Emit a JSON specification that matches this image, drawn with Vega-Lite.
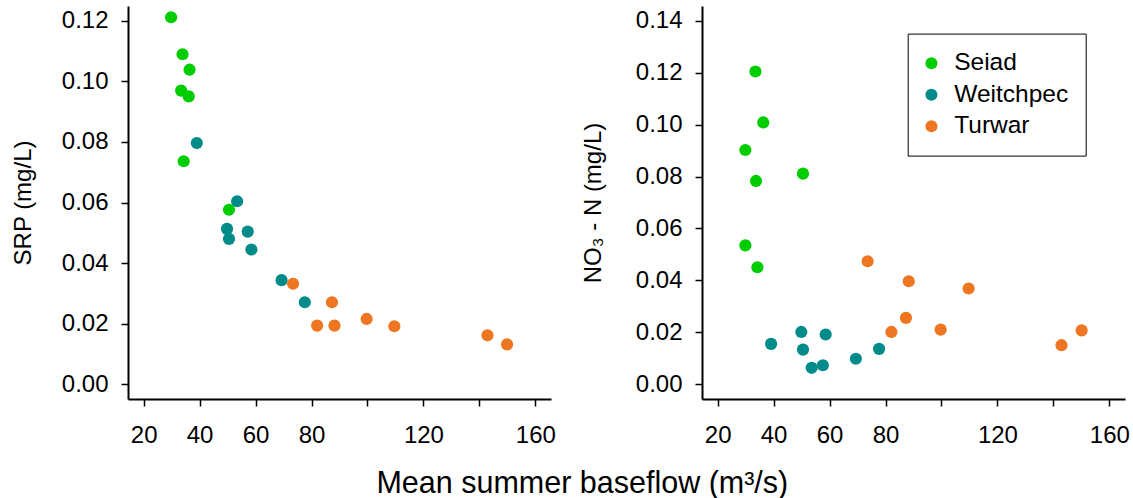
{
  "$schema": "https://vega.github.io/schema/vega-lite/v6.json",
  "padding": {"left": 11, "top": 6, "right": 0, "bottom": 0},
  "background": "white",
  "datasets": {
    "srp": [
      {"site": "Seiad", "flow": 29.8, "srp": 0.1211},
      {"site": "Seiad", "flow": 33.9, "srp": 0.1089},
      {"site": "Seiad", "flow": 36.4, "srp": 0.1038},
      {"site": "Seiad", "flow": 33.4, "srp": 0.0969},
      {"site": "Seiad", "flow": 36.1, "srp": 0.0950},
      {"site": "Seiad", "flow": 34.3, "srp": 0.0736},
      {"site": "Weitchpec", "flow": 39.0, "srp": 0.0796},
      {"site": "Weitchpec", "flow": 53.4, "srp": 0.0604},
      {"site": "Weitchpec", "flow": 49.8, "srp": 0.0513},
      {"site": "Weitchpec", "flow": 50.5, "srp": 0.0480},
      {"site": "Weitchpec", "flow": 57.2, "srp": 0.0504},
      {"site": "Weitchpec", "flow": 58.5, "srp": 0.0445},
      {"site": "Weitchpec", "flow": 69.3, "srp": 0.0344},
      {"site": "Weitchpec", "flow": 77.6, "srp": 0.0271},
      {"site": "Seiad", "flow": 50.5, "srp": 0.0576},
      {"site": "Turwar", "flow": 73.4, "srp": 0.0332},
      {"site": "Turwar", "flow": 87.3, "srp": 0.0271},
      {"site": "Turwar", "flow": 82.0, "srp": 0.0194},
      {"site": "Turwar", "flow": 88.2, "srp": 0.0194},
      {"site": "Turwar", "flow": 99.7, "srp": 0.0216},
      {"site": "Turwar", "flow": 109.6, "srp": 0.0192},
      {"site": "Turwar", "flow": 142.9, "srp": 0.0162},
      {"site": "Turwar", "flow": 149.9, "srp": 0.0132}
    ],
    "no3": [
      {"site": "Seiad", "flow": 33.5, "no3": 0.1204},
      {"site": "Seiad", "flow": 36.3, "no3": 0.1008},
      {"site": "Seiad", "flow": 29.9, "no3": 0.0902},
      {"site": "Seiad", "flow": 33.7, "no3": 0.0783},
      {"site": "Seiad", "flow": 50.5, "no3": 0.0811},
      {"site": "Seiad", "flow": 29.9, "no3": 0.0535},
      {"site": "Seiad", "flow": 34.2, "no3": 0.0451},
      {"site": "Weitchpec", "flow": 39.1, "no3": 0.0156},
      {"site": "Weitchpec", "flow": 49.9, "no3": 0.0202},
      {"site": "Weitchpec", "flow": 50.5, "no3": 0.0134},
      {"site": "Weitchpec", "flow": 53.6, "no3": 0.0064},
      {"site": "Weitchpec", "flow": 57.6, "no3": 0.0074},
      {"site": "Weitchpec", "flow": 58.6, "no3": 0.0192},
      {"site": "Weitchpec", "flow": 69.4, "no3": 0.0099},
      {"site": "Weitchpec", "flow": 77.7, "no3": 0.0137},
      {"site": "Turwar", "flow": 73.6, "no3": 0.0474},
      {"site": "Turwar", "flow": 88.3, "no3": 0.0397},
      {"site": "Turwar", "flow": 109.7, "no3": 0.0369},
      {"site": "Turwar", "flow": 87.3, "no3": 0.0256},
      {"site": "Turwar", "flow": 82.1, "no3": 0.0202},
      {"site": "Turwar", "flow": 99.7, "no3": 0.0211},
      {"site": "Turwar", "flow": 142.9, "no3": 0.0151},
      {"site": "Turwar", "flow": 150.1, "no3": 0.0208}
    ]
  },
  "title": {
    "text": "Mean summer baseflow (m³/s)",
    "orient": "bottom",
    "anchor": "middle",
    "font": "Liberation Sans",
    "fontSize": 30.5,
    "fontWeight": "normal",
    "color": "black",
    "offset": 22,
    "dx": 12
  },
  "spacing": 151,
  "bounds": "flush",
  "resolve": {"scale": {"color": "independent"}},
  "hconcat": [
    {
      "width": 423,
      "height": 393,
      "data": {"name": "srp"},
      "mark": {"type": "point", "filled": true, "opacity": 1, "size": 148},
      "encoding": {
        "x": {
          "field": "flow", "type": "quantitative",
          "scale": {"domain": [14.4, 165.6], "nice": false, "zero": false},
          "axis": {"title": null, "values": [20, 40, 60, 80, 100, 120, 140, 160],
                   "labelExpr": "datum.value == 100 || datum.value == 140 ? '' : datum.label"}
        },
        "y": {
          "field": "srp", "type": "quantitative",
          "scale": {"domain": [-0.0048, 0.1248], "nice": false, "zero": false},
          "axis": {"title": "SRP (mg/L)", "values": [0, 0.02, 0.04, 0.06, 0.08, 0.1, 0.12],
                   "format": ".2f", "titlePadding": 26}
        },
        "color": {
          "field": "site", "type": "nominal",
          "scale": {"domain": ["Seiad", "Weitchpec", "Turwar"], "range": ["#00CD00", "#008B8B", "#EE7621"]},
          "legend": null
        }
      }
    },
    {
      "width": 423,
      "height": 393,
      "data": {"name": "no3"},
      "mark": {"type": "point", "filled": true, "opacity": 1, "size": 148},
      "encoding": {
        "x": {
          "field": "flow", "type": "quantitative",
          "scale": {"domain": [14.4, 165.6], "nice": false, "zero": false},
          "axis": {"title": null, "values": [20, 40, 60, 80, 100, 120, 140, 160],
                   "labelExpr": "datum.value == 100 || datum.value == 140 ? '' : datum.label"}
        },
        "y": {
          "field": "no3", "type": "quantitative",
          "scale": {"domain": [-0.0056, 0.1456], "nice": false, "zero": false},
          "axis": {"title": "NO₃ - N (mg/L)", "values": [0, 0.02, 0.04, 0.06, 0.08, 0.1, 0.12, 0.14],
                   "format": ".2f", "titlePadding": 30}
        },
        "color": {
          "field": "site", "type": "nominal",
          "scale": {"domain": ["Seiad", "Weitchpec", "Turwar"], "range": ["#00CD00", "#008B8B", "#EE7621"]},
          "legend": {
            "title": null,
            "orient": "none",
            "legendX": 205.7,
            "legendY": 27.6,
            "strokeColor": "black",
            "padding": 17.5,
            "symbolType": "circle",
            "symbolSize": 145,
            "symbolStrokeWidth": 0,
            "symbolOpacity": 1,
            "symbolOffset": -6,
            "labelFont": "Liberation Sans",
            "labelFontSize": 24.5,
            "labelColor": "black",
            "labelOffset": 10.5,
            "rowPadding": 6.5
          }
        }
      }
    }
  ],
  "config": {
    "view": {"stroke": null},
    "axis": {
      "grid": false,
      "domainColor": "black",
      "domainWidth": 2,
      "tickColor": "black",
      "tickWidth": 1.5,
      "tickSize": 7,
      "labelFont": "Liberation Sans",
      "labelFontSize": 24,
      "labelColor": "black",
      "labelOverlap": false,
      "labelFlush": false,
      "labelBound": false,
      "titleFont": "Liberation Sans",
      "titleFontSize": 24,
      "titleFontWeight": "normal",
      "titleColor": "black"
    },
    "axisX": {"labelPadding": 17},
    "axisY": {"labelPadding": 13}
  }
}
